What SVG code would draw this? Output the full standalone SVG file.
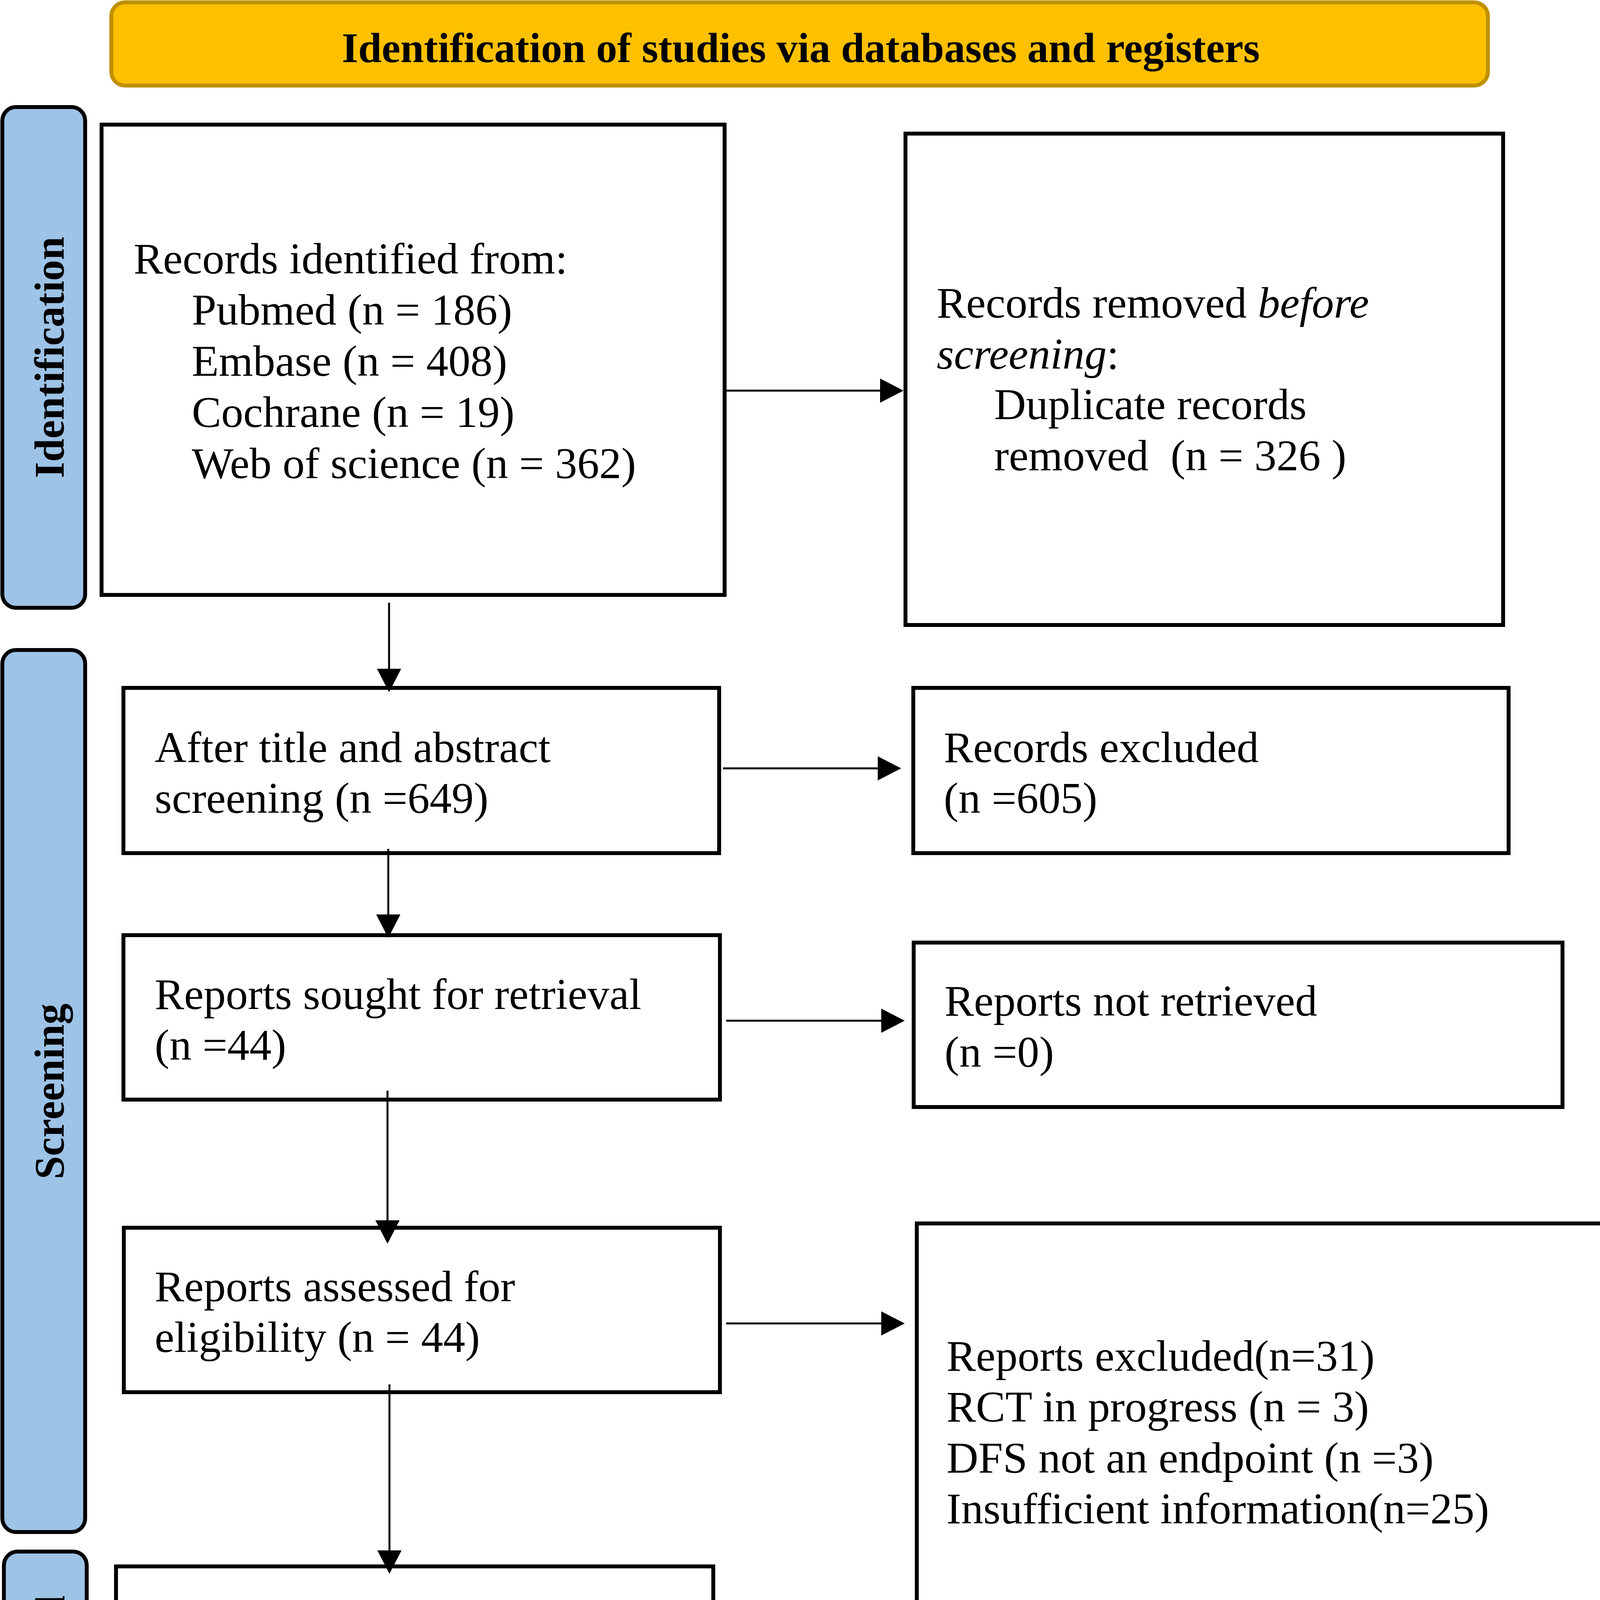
<svg xmlns="http://www.w3.org/2000/svg" width="4331" height="4602" viewBox="0 0 4331 4602">
<style>
.box{fill:#FFFFFF;stroke:#000000;stroke-width:10}
.bar{fill:#9DC3E6;stroke:#000000;stroke-width:10}
.hdr{fill:#FFC000;stroke:#BF9000;stroke-width:10}
.t{font-family:"Liberation Serif","Times New Roman",serif;font-size:113px;fill:#000000;white-space:pre}
.it{font-style:italic}
.lbl{font-family:"Liberation Serif","Times New Roman",serif;font-size:107px;font-weight:bold;fill:#000000;text-anchor:middle}
.title{font-family:"Liberation Serif","Times New Roman",serif;font-size:108px;font-weight:bold;fill:#000000;text-anchor:middle}
.c{stroke:#000000;stroke-width:5;fill:none}
</style>
<defs>
<marker id="ah" viewBox="0 0 60 62" markerWidth="60" markerHeight="62" markerUnits="userSpaceOnUse" refX="30" refY="31" orient="auto">
<path d="M0,0 L60,31 L0,62 Z" fill="#000000"/>
</marker>
</defs>
<rect width="4331" height="4602" fill="#FFFFFF"/>

<g id="header">
<rect class="hdr" x="285" y="6" width="3524" height="213" rx="35"/>
<text class="title" x="2050" y="159">Identification of studies via databases and registers</text>
</g>

<g id="phase-identification">
<rect class="bar" x="6" y="274" width="212" height="1282" rx="35"/>
<text class="lbl" transform="translate(163,915) rotate(-90)">Identification</text>
</g>
<g id="phase-screening">
<rect class="bar" x="6" y="1664" width="212" height="2258" rx="35"/>
<text class="lbl" transform="translate(163,2794) rotate(-90)">Screening</text>
</g>
<g id="phase-included">
<rect class="bar" x="10" y="3972" width="212" height="618" rx="35"/>
<text class="lbl" transform="translate(165,4287) rotate(-90)">Included</text>
</g>

<g id="records-identified">
<rect class="box" x="260" y="319" width="1595" height="1204"/>
<text class="t" x="342" y="700">Records identified from:</text>
<text class="t" x="491" y="831">Pubmed (n = 186)</text>
<text class="t" x="491" y="962">Embase (n = 408)</text>
<text class="t" x="491" y="1093">Cochrane (n = 19)</text>
<text class="t" x="491" y="1224">Web of science (n = 362)</text>
</g>

<g id="records-removed">
<rect class="box" x="2318" y="342" width="1530" height="1258"/>
<text class="t" x="2398" y="813">Records removed <tspan class="it">before</tspan></text>
<text class="t" x="2398" y="944"><tspan class="it">screening</tspan>:</text>
<text class="t" x="2545" y="1073">Duplicate records</text>
<text class="t" x="2545" y="1204">removed  (n = 326 )</text>
</g>

<g id="after-screening">
<rect class="box" x="316" y="1761" width="1525" height="423"/>
<text class="t" x="396" y="1951">After title and abstract</text>
<text class="t" x="396" y="2081">screening (n =649)</text>
</g>

<g id="records-excluded">
<rect class="box" x="2338" y="1761" width="1524" height="423"/>
<text class="t" x="2416" y="1951">Records excluded</text>
<text class="t" x="2416" y="2081">(n =605)</text>
</g>

<g id="reports-sought">
<rect class="box" x="316" y="2394" width="1527" height="421"/>
<text class="t" x="396" y="2583">Reports sought for retrieval</text>
<text class="t" x="396" y="2713">(n =44)</text>
</g>

<g id="reports-not-retrieved">
<rect class="box" x="2339" y="2413" width="1661" height="421"/>
<text class="t" x="2418" y="2600">Reports not retrieved</text>
<text class="t" x="2418" y="2731">(n =0)</text>
</g>

<g id="reports-assessed">
<rect class="box" x="317" y="3143" width="1526" height="421"/>
<text class="t" x="396" y="3331">Reports assessed for</text>
<text class="t" x="396" y="3461">eligibility (n = 44)</text>
</g>

<g id="reports-excluded">
<rect class="box" x="2347" y="3132" width="1978" height="1055"/>
<text class="t" x="2423" y="3509">Reports excluded(n=31)</text>
<text class="t" x="2423" y="3639">RCT in progress (n = 3)</text>
<text class="t" x="2423" y="3770">DFS not an endpoint (n =3)</text>
<text class="t" x="2423" y="3900">Insufficient information(n=25)</text>
</g>

<g id="studies-included">
<rect class="box" x="297" y="4010" width="1529" height="586"/>
<text class="t" x="378" y="4276">Studies included in review</text>
<text class="t" x="378" y="4408">(n = 13)</text>
</g>

<g id="connectors">
<line class="c" x1="1859" y1="1000" x2="2283" y2="1000" marker-end="url(#ah)"/>
<line class="c" x1="1851" y1="1967" x2="2277" y2="1967" marker-end="url(#ah)"/>
<line class="c" x1="1859" y1="2613" x2="2286" y2="2613" marker-end="url(#ah)"/>
<line class="c" x1="1859" y1="3388" x2="2286" y2="3388" marker-end="url(#ah)"/>
<line class="c" x1="996" y1="1543" x2="996" y2="1742" marker-end="url(#ah)"/>
<line class="c" x1="994" y1="2173" x2="994" y2="2371" marker-end="url(#ah)"/>
<line class="c" x1="992" y1="2792" x2="992" y2="3154" marker-end="url(#ah)"/>
<line class="c" x1="997" y1="3544" x2="997" y2="3999" marker-end="url(#ah)"/>
</g>
</svg>
